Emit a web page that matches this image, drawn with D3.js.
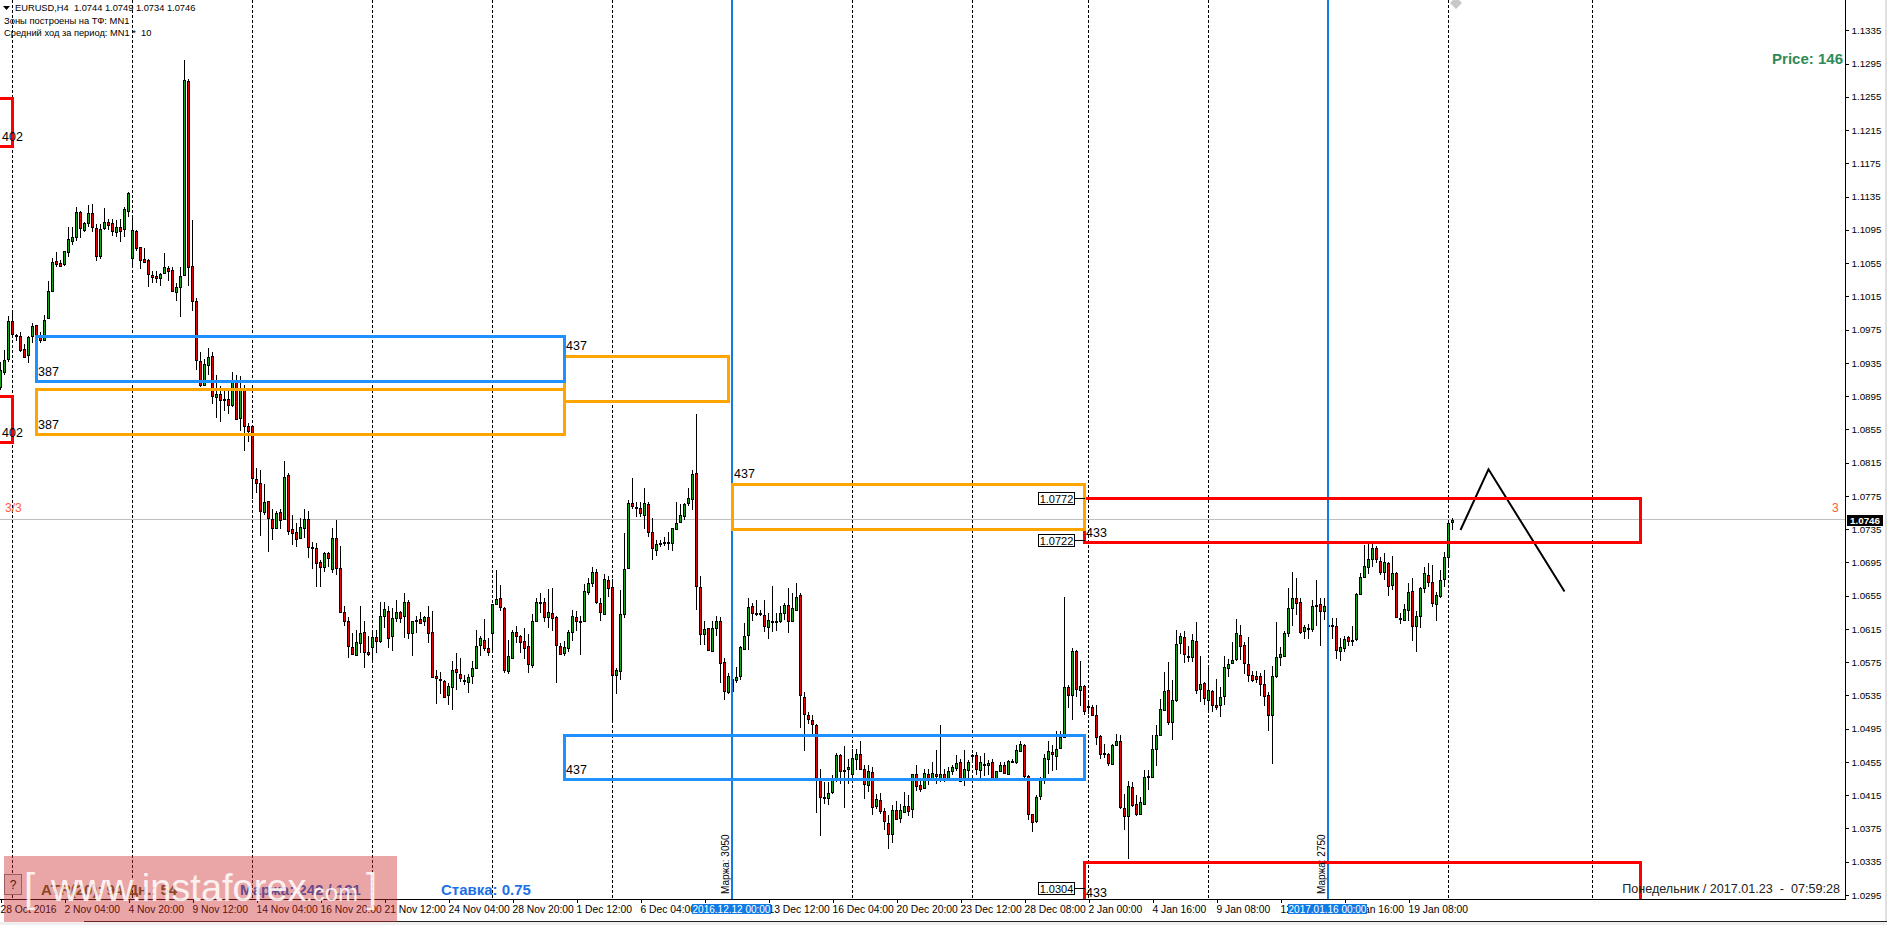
<!DOCTYPE html>
<html><head><meta charset="utf-8">
<script src="https://cdn.jsdelivr.net/npm/d3@7/dist/d3.min.js"></script>
<style>
html,body{margin:0;padding:0;background:#fff;overflow:hidden}
svg{display:block}
text{font-family:"Liberation Sans",Arial,sans-serif;fill:#000}
</style></head><body><svg id="c" width="1887" height="925"></svg>
<script>
// Prices are in units of 0.0001 (10746 = 1.0746). One entry per H4 bar.
const opens=[10906,10924,10940,10985,10969,10967,10952,10944,10967,10981,
10966,10963,10989,11022,11057,11055,11054,11068,11082,11086,
11117,11095,11103,11115,11097,11064,11097,11105,11103,11093,
11098,11096,11118,11061,11094,11074,11060,11059,11041,11040,
11037,11043,11049,11047,11020,11026,11041,11274,11052,11009,
10937,10908,10933,10943,10894,10898,10892,10892,10884,10912,
10869,10902,10859,10859,10795,10790,10756,10769,10747,10736,
10756,10747,10800,10735,10731,10724,10736,10747,10713,10712,
10695,10690,10706,10687,10724,10688,10635,10624,10593,10584,
10598,10611,10587,10593,10605,10601,10630,10637,10606,10628,
10635,10630,10647,10610,10626,10627,10624,10629,10611,10558,
10555,10552,10535,10545,10567,10561,10554,10551,10558,10568,
10596,10602,10592,10610,10645,10652,10640,10565,10580,10611,
10606,10600,10594,10572,10625,10647,10647,10629,10634,10629,
10595,10586,10592,10611,10629,10623,10625,10660,10670,10684,
10646,10633,10674,10665,10559,10565,10633,10688,10767,10762,
10760,10752,10765,10731,10710,10718,10720,10718,10718,10735,
10744,10751,10766,10771,10802,10666,10609,10616,10589,10616,
10625,10575,10539,10540,10553,10558,10591,10608,10642,10633,
10634,10632,10617,10625,10624,10624,10634,10644,10624,10638,
10656,10533,10512,10506,10500,10435,10413,10412,10419,10433,
10463,10445,10446,10440,10459,10465,10446,10427,10443,10402,
10409,10396,10382,10368,10397,10388,10395,10402,10398,10441,
10427,10424,10441,10436,10441,10436,10440,10436,10444,10448,
10455,10434,10445,10462,10463,10445,10451,10451,10455,10433,
10444,10451,10441,10455,10455,10468,10476,10438,10392,10384,
10414,10434,10459,10467,10462,10472,10485,10545,10536,10589,
10542,10546,10522,10521,10512,10486,10466,10464,10453,10475,
10480,10400,10390,10425,10405,10392,10405,10437,10437,10470,
10488,10518,10541,10503,10529,10598,10605,10583,10581,10600,
10543,10550,10530,10540,10523,10524,10534,10568,10574,10579,
10608,10596,10573,10559,10558,10558,10549,10535,10511,10558,
10581,10583,10610,10640,10652,10648,10612,10615,10615,10643,
10645,10637,10619,10620,10619,10588,10592,10605,10601,10603,
10657,10677,10690,10699,10712,10697,10684,10694,10668,10682,
10628,10626,10638,10661,10618,10630,10664,10680,10671,10645,
10655,10675,10701,10744];
const highs=[10936,10950,10991,10999,10970,10972,10958,10967,10983,10981,
10972,10992,11033,11061,11068,11059,11070,11098,11099,11122,
11118,11105,11125,11126,11102,11102,11121,11108,11108,11107,
11108,11123,11141,11113,11095,11074,11073,11060,11046,11046,
11043,11067,11051,11050,11031,11050,11299,11276,11107,11013,
10948,10940,10953,10948,10920,10907,10903,10902,10924,10920,
10919,10908,10863,10860,10808,10806,10789,10768,10759,10757,
10759,10817,10802,10752,10742,10748,10759,10757,10720,10718,
10698,10708,10707,10736,10746,10715,10643,10629,10610,10614,
10642,10624,10606,10614,10614,10648,10647,10642,10640,10650,
10637,10658,10650,10625,10630,10635,10630,10643,10637,10566,
10563,10553,10550,10577,10586,10580,10559,10561,10577,10614,
10606,10627,10604,10645,10686,10668,10641,10602,10614,10619,
10608,10616,10609,10633,10652,10658,10652,10663,10664,10631,
10598,10600,10614,10638,10636,10630,10669,10676,10689,10687,
10652,10681,10679,10675,10568,10662,10730,10770,10797,10768,
10768,10785,10768,10748,10722,10722,10725,10732,10736,10768,
10765,10767,10784,10806,10874,10679,10624,10616,10624,10630,
10629,10580,10562,10555,10569,10595,10622,10652,10646,10650,
10638,10650,10634,10667,10634,10642,10646,10664,10658,10670,
10658,10539,10515,10511,10501,10447,10431,10431,10439,10466,
10465,10474,10459,10470,10470,10480,10451,10451,10449,10417,
10418,10400,10391,10403,10408,10405,10419,10415,10441,10451,
10433,10447,10447,10455,10469,10499,10447,10449,10451,10463,
10459,10469,10457,10465,10467,10462,10466,10457,10458,10444,
10455,10455,10457,10458,10475,10480,10477,10439,10392,10415,
10437,10464,10480,10476,10492,10492,10654,10547,10592,10590,
10577,10547,10527,10523,10523,10487,10477,10466,10477,10489,
10488,10416,10432,10431,10415,10413,10445,10445,10487,10499,
10531,10563,10575,10553,10614,10610,10612,10594,10609,10623,
10582,10551,10569,10541,10555,10545,10582,10579,10599,10627,
10620,10599,10605,10565,10565,10562,10566,10539,10571,10623,
10593,10613,10664,10684,10676,10652,10620,10621,10650,10674,
10652,10652,10621,10628,10628,10604,10606,10606,10618,10658,
10682,10716,10718,10718,10715,10702,10706,10696,10703,10684,
10634,10645,10670,10676,10636,10666,10689,10694,10692,10660,
10686,10708,10744,10749];
const lows=[10902,10921,10936,10966,10961,10948,10942,10935,10959,10955,
10959,10962,10989,11020,11050,11051,11051,11062,11077,11081,
11085,11092,11099,11092,11058,11060,11095,11095,11087,11086,
11080,11086,11111,11049,11070,11048,11055,11026,11031,11031,
11028,11042,11034,11021,11009,10990,11040,11028,10997,10926,
10906,10907,10920,10886,10869,10864,10877,10874,10882,10866,
10853,10829,10840,10771,10778,10727,10752,10708,10722,10735,
10735,10746,10728,10716,10713,10724,10724,10700,10687,10665,
10666,10684,10690,10682,10680,10634,10619,10580,10584,10583,
10586,10568,10583,10576,10586,10598,10616,10592,10589,10623,
10622,10604,10603,10583,10610,10621,10619,10598,10556,10525,
10537,10532,10523,10517,10542,10551,10548,10538,10549,10567,
10582,10588,10583,10590,10644,10636,10562,10561,10579,10598,
10586,10579,10562,10568,10624,10634,10623,10616,10612,10550,
10584,10583,10587,10600,10612,10584,10624,10656,10665,10645,
10624,10632,10654,10503,10537,10554,10628,10687,10759,10750,
10750,10735,10726,10698,10703,10713,10715,10710,10709,10734,
10743,10746,10763,10758,10638,10596,10596,10589,10588,10607,
10550,10530,10537,10533,10550,10553,10590,10590,10624,10631,
10631,10611,10603,10611,10612,10622,10626,10610,10623,10637,
10496,10468,10501,10489,10394,10366,10404,10403,10417,10431,
10429,10400,10428,10439,10445,10446,10410,10419,10391,10399,
10392,10373,10350,10357,10386,10382,10394,10390,10388,10420,
10419,10422,10427,10435,10428,10431,10431,10432,10439,10444,
10431,10426,10434,10454,10439,10435,10438,10439,10432,10432,
10443,10440,10440,10454,10453,10467,10433,10385,10371,10382,
10409,10428,10441,10444,10445,10471,10484,10520,10505,10533,
10522,10511,10513,10511,10475,10459,10460,10450,10452,10474,
10399,10373,10338,10401,10390,10391,10404,10421,10436,10450,
10487,10517,10500,10481,10527,10585,10574,10575,10575,10537,
10527,10523,10517,10515,10517,10509,10523,10557,10573,10577,
10578,10561,10551,10551,10550,10534,10522,10492,10452,10556,
10570,10581,10605,10619,10632,10609,10603,10603,10611,10618,
10595,10626,10605,10603,10579,10577,10587,10595,10595,10601,
10656,10677,10681,10690,10694,10680,10674,10655,10662,10628,
10621,10625,10625,10601,10587,10616,10658,10666,10641,10624,
10652,10665,10691,10734];
const closes=[10926,10939,10985,10970,10968,10951,10942,10966,10979,10967,
10962,10987,11021,11056,11054,11052,11070,11084,11086,11117,
11097,11103,11115,11098,11063,11096,11105,11101,11094,11098,
11094,11120,11139,11095,11073,11059,11056,11042,11038,11037,
11042,11050,11046,11021,11026,11040,11275,11050,11009,10938,
10908,10934,10942,10895,10897,10890,10891,10884,10912,10868,
10902,10859,10853,10796,10791,10757,10768,10748,10736,10755,
10746,10798,10733,10730,10723,10738,10747,10714,10712,10694,
10689,10706,10700,10724,10688,10635,10625,10594,10585,10599,
10610,10587,10585,10605,10600,10631,10639,10604,10628,10635,
10628,10647,10610,10624,10625,10622,10629,10610,10557,10556,
10553,10533,10546,10566,10563,10556,10553,10557,10568,10595,
10604,10592,10587,10645,10651,10641,10566,10582,10611,10607,
10599,10592,10573,10624,10647,10646,10629,10635,10628,10596,
10585,10593,10611,10630,10625,10624,10661,10670,10683,10647,
10635,10675,10664,10560,10566,10633,10687,10766,10763,10761,
10754,10766,10732,10712,10717,10717,10718,10719,10736,10743,
10752,10765,10772,10801,10667,10609,10615,10590,10616,10625,
10574,10540,10558,10555,10557,10593,10607,10641,10634,10634,
10633,10619,10626,10623,10625,10634,10644,10625,10640,10654,
10535,10513,10507,10501,10435,10413,10412,10418,10433,10463,
10444,10444,10449,10460,10464,10447,10428,10444,10401,10410,
10396,10384,10368,10397,10387,10397,10402,10396,10440,10426,
10423,10442,10436,10442,10438,10441,10436,10444,10449,10454,
10432,10447,10455,10463,10447,10455,10452,10454,10434,10444,
10451,10442,10456,10456,10469,10477,10438,10393,10383,10413,
10433,10460,10468,10464,10471,10485,10545,10535,10588,10543,
10546,10516,10521,10512,10485,10465,10465,10454,10475,10480,
10401,10390,10426,10403,10393,10407,10437,10438,10471,10487,
10519,10540,10503,10530,10597,10606,10585,10582,10602,10541,
10549,10532,10541,10523,10521,10533,10569,10573,10578,10610,
10595,10574,10560,10553,10555,10549,10534,10512,10558,10581,
10585,10610,10640,10652,10646,10611,10617,10616,10643,10644,
10636,10643,10620,10619,10590,10593,10603,10601,10602,10657,
10678,10691,10699,10712,10699,10683,10695,10667,10682,10629,
10627,10639,10660,10619,10631,10664,10682,10671,10646,10656,
10674,10702,10743,10746];

const yTicks=[11335,11295,11255,11215,11175,11135,11095,11055,11015,10975,10935,10895,10855,10815,10775,10735,10695,10655,10615,10575,10535,10495,10455,10415,10375,10335,10295];
const xTickBars=[0,16,32,48,64,80,96,112,128,144,160,176,192,208,224,240,256,272,288,304,320,336,352];
const xTickLabels=["28 Oct 2016","2 Nov 04:00","4 Nov 20:00","9 Nov 12:00","14 Nov 04:00","16 Nov 20:00","21 Nov 12:00","24 Nov 04:00","28 Nov 20:00","1 Dec 12:00","6 Dec 04:00","8 Dec 20:00","13 Dec 12:00","16 Dec 04:00","20 Dec 20:00","23 Dec 12:00","28 Dec 08:00","2 Jan 00:00","4 Jan 16:00","9 Jan 08:00","12 Jan 00:00","17 Jan 16:00","19 Jan 08:00"];
const gridBars=[3,33,63,93,123,153,183,213,243,272,302,332,362,398];
const markBars=[183,332];
const markLabels=["Маржа: 3050","Маржа: 2750"];
const markDates=["2016.12.12 00:00","2017.01.16 00:00"];
const zoneFrom=[-8,-8,271,271,9,141,183,9,141];
const zoneTo=[3,3,410,410,141,182,271,141,271];
const zoneHigh=[11253,10895,10773,10335,10904,10943,10789,10967,10488];
const zoneLow=[11196,10840,10719,10270,10850,10889,10735,10913,10435];
const zoneKind=["r","r","r","r","o","o","o","b","b"];
const zoneText=["402","402","433","433","387","437","437","387","437"];
const zoneLabelPrice=[11196,10840,10719,10304,10850,10943,10789,10913,10435];
const levelPrices=[10772,10722,10304];
const forecastBars=[365,372,391];
const forecastPrices=[10734,10807,10660];
const lastPrice=10746;

const svg=d3.select("#c");
const W=1846,B=899;
const x=d3.scaleLinear().domain([0,461]).range([0.5,1844.5]);
const y=d3.scaleLinear().domain([11335,10295]).range([30.3,895]);
const py=v=>Math.round(y(v));
const kindColor=d3.scaleOrdinal().domain(["r","b","o"]).range(["#ff0000","#1e90ff","#ffa500"]);

svg.append("defs").append("clipPath").attr("id","plot").append("rect").attr("x",0).attr("y",0).attr("width",W).attr("height",B);
const plot=svg.append("g").attr("clip-path","url(#plot)");

// grid
plot.append("g").selectAll("line").data(gridBars).join("line")
 .attr("x1",d=>x(d)).attr("x2",d=>x(d)).attr("y1",0).attr("y2",B)
 .attr("stroke","#000").attr("stroke-dasharray","3,2").attr("shape-rendering","crispEdges");
// last price line
plot.append("line").attr("x1",0).attr("x2",W).attr("y1",py(lastPrice)-.5).attr("y2",py(lastPrice)-.5)
 .attr("stroke","#c0c0c0").attr("shape-rendering","crispEdges");

// candles
const idx=d3.range(opens.length);
const cg=plot.append("g").attr("shape-rendering","crispEdges");
cg.selectAll("line").data(idx).join("line")
 .attr("x1",i=>x(i)).attr("x2",i=>x(i)).attr("y1",i=>py(highs[i])).attr("y2",i=>py(lows[i]))
 .attr("stroke","#000");
cg.selectAll("rect").data(idx).join("rect")
 .attr("x",i=>x(i)-1).attr("width",2)
 .attr("y",i=>py(Math.max(opens[i],closes[i]))+.5)
 .attr("height",i=>Math.max(1,py(Math.min(opens[i],closes[i]))-py(Math.max(opens[i],closes[i]))))
 .attr("fill",i=>closes[i]>=opens[i]?"#16a516":"#e60000")
 .attr("stroke","#000");

// forecast
plot.append("path").attr("d",d3.line().x(d=>x(d[0])).y(d=>y(d[1]))(d3.zip(forecastBars,forecastPrices)))
 .attr("fill","none").attr("stroke","#000").attr("stroke-width",2);

// marks
plot.append("g").selectAll("line").data(markBars).join("line")
 .attr("x1",d=>x(d)-.5).attr("x2",d=>x(d)-.5).attr("y1",0).attr("y2",B)
 .attr("stroke","#0f7be6").attr("stroke-width",2).attr("shape-rendering","crispEdges");

// zones: red first, then orange, then blue on top
const zi=d3.range(zoneFrom.length);
plot.append("g").selectAll("rect").data(zi).join("rect")
 .attr("x",i=>x(zoneFrom[i])).attr("width",i=>x(zoneTo[i])-x(zoneFrom[i]))
 .attr("y",i=>py(zoneHigh[i])+.5).attr("height",i=>py(zoneLow[i])-py(zoneHigh[i]))
 .attr("fill","none").attr("stroke",i=>kindColor(zoneKind[i])).attr("stroke-width",3)
 .attr("shape-rendering","crispEdges");

// zone labels
plot.append("g").selectAll("text").data(zi).join("text")
 .attr("x",i=>x(Math.max(zoneFrom[i],0))+1.5)
 .attr("y",i=>py(zoneLabelPrice[i])+(zoneLabelPrice[i]===zoneHigh[i]?-6:(i===3?9:-5)))
 .attr("font-size",12.5).text(i=>zoneText[i]);

// mark rotated labels
plot.append("g").selectAll("text").data(markBars).join("text")
 .attr("transform",d=>`translate(${x(d)-4},894) rotate(-90)`)
 .attr("font-size",10).text((d,i)=>markLabels[i]);

// level tags
const zoneEnd=x(271);
const tg=plot.append("g").selectAll("g").data(levelPrices).join("g").attr("transform",d=>`translate(0,${py(d)})`);
tg.append("line").attr("x1",zoneEnd-10).attr("x2",zoneEnd).attr("y1",0.5).attr("y2",0.5).attr("stroke","#000").attr("shape-rendering","crispEdges");
tg.append("rect").attr("x",zoneEnd-46).attr("y",-5.5).attr("width",36).attr("height",12).attr("fill","#fff").attr("stroke","#000").attr("shape-rendering","crispEdges");
tg.append("text").attr("x",zoneEnd-28).attr("y",4.5).attr("text-anchor","middle").attr("font-size",11).text(d=>(d/10000).toFixed(4));

// header
svg.append("path").attr("d","M3 6 L10 6 L6.5 10 Z").attr("fill","#000");
svg.append("text").attr("x",15).attr("y",11).attr("font-size",9.3).style("white-space","pre").text("EURUSD,H4  1.0744 1.0749 1.0734 1.0746");
svg.append("text").attr("x",4).attr("y",24).attr("font-size",9.4).text("Зоны построены на ТФ: MN1");
svg.append("text").attr("x",4).attr("y",36).attr("font-size",9.3).style("white-space","pre").text("Средний ход за период: MN1 *  10");
svg.append("path").attr("d","M1456 -3 L1462 3 L1456 9 L1450 3 Z").attr("fill","#c8c8c8");

// info texts
svg.append("text").attr("x",1843).attr("y",64).attr("text-anchor","end").attr("font-size",15).attr("font-weight","bold").style("fill","#2e8b57").text("Price: 146");
svg.append("text").attr("x",1832).attr("y",512).attr("font-size",12).style("fill","#ff5a36").text("3");
svg.append("text").attr("x",5).attr("y",512).attr("font-size",12).style("fill","#ff5a36").text("3/3");
svg.append("text").attr("x",1840).attr("y",893).attr("text-anchor","end").attr("font-size",12.6).style("fill","#222").style("white-space","pre").text("Понедельник / 2017.01.23  -  07:59:28");
svg.append("text").attr("x",41).attr("y",895).attr("font-size",15).attr("font-weight","bold").style("fill","#5a5a20").text("ATR(20): 94  Дн.: 54");
svg.append("text").attr("x",240).attr("y",895).attr("font-size",15).attr("font-weight","bold").style("fill","#1e5fd0").text("Маржа: 242 / 121");
svg.append("text").attr("x",441).attr("y",895).attr("font-size",15).attr("font-weight","bold").style("fill","#1e72e6").text("Ставка: 0.75");
svg.append("rect").attr("x",4.5).attr("y",874.5).attr("width",17).attr("height",20).attr("fill","#f0f0f0").attr("stroke","#808080").attr("shape-rendering","crispEdges");
svg.append("text").attr("x",13).attr("y",889).attr("text-anchor","middle").attr("font-size",12).text("?");

// axes
const yAxis=d3.axisRight(y).tickValues(yTicks).tickSize(3).tickPadding(3).tickFormat(d=>(d/10000).toFixed(4));
const ya=svg.append("g").attr("transform",`translate(${W-.5},0)`).call(yAxis);
ya.select(".domain").remove();
ya.append("line").attr("x1",0).attr("x2",0).attr("y1",0).attr("y2",B+1).attr("stroke","#000").attr("shape-rendering","crispEdges");
ya.selectAll("text").attr("font-size",9.8).attr("font-family",'"Liberation Sans"');
ya.selectAll(".tick line").attr("shape-rendering","crispEdges");

const xAxis=d3.axisBottom(x).tickValues(xTickBars).tickSize(3).tickPadding(3).tickFormat((d,i)=>xTickLabels[i]);
const xa=svg.append("g").attr("transform",`translate(0,${B+.5})`).call(xAxis);
xa.select(".domain").remove();
xa.append("line").attr("x1",0).attr("x2",W).attr("y1",0).attr("y2",0).attr("stroke","#000").attr("shape-rendering","crispEdges");
xa.selectAll(".tick line").attr("shape-rendering","crispEdges");
xa.selectAll(".tick text").attr("text-anchor","start").attr("x",-0.5).attr("font-size",10.3).attr("font-family",'"Liberation Sans"');

// date flags
const fg=svg.append("g").selectAll("g").data(markBars).join("g");
fg.append("rect").attr("x",d=>x(d)-40.5).attr("y",904).attr("width",79).attr("height",10).attr("fill","#0f7be6");
fg.append("text").attr("x",d=>x(d)-1).attr("y",912.5).attr("text-anchor","middle").attr("font-size",10).style("fill","#fff").text((d,i)=>markDates[i]);

// last price tag
svg.append("rect").attr("x",1847).attr("y",py(lastPrice)-5).attr("width",36).attr("height",11).attr("fill","#000");
svg.append("text").attr("x",1865).attr("y",py(lastPrice)+4).attr("text-anchor","middle").attr("font-size",9.8).attr("font-weight","bold").style("fill","#fff").text((lastPrice/10000).toFixed(4));

// frame
svg.append("rect").attr("x",0).attr("y",922).attr("width",1887).attr("height",3).attr("fill","#f0f0f0");
svg.append("line").attr("x1",84).attr("x2",1887).attr("y1",921.5).attr("y2",921.5).attr("stroke","#222").attr("shape-rendering","crispEdges");
svg.append("rect").attr("x",1885).attr("y",0).attr("width",2).attr("height",921).attr("fill","#e0e0e0");

// watermark
const wm=svg.append("g");
wm.append("rect").attr("x",4).attr("y",856).attr("width",393).attr("height",66).attr("fill","#cc2a2a").attr("opacity",.42);
const wt=wm.append("g").attr("opacity",.85);
wt.append("text").attr("x",24).attr("y",902).attr("font-size",40).style("fill","#fff").text("[");
wt.append("text").attr("x",51).attr("y",901).attr("font-size",38).style("fill","#fff").text("www.instaforex");
wt.append("text").attr("x",306).attr("y",901).attr("font-size",24).style("fill","#fff").text(".com");
wt.append("text").attr("x",366).attr("y",902).attr("font-size",40).style("fill","#fff").text("]");
</script></body></html>
